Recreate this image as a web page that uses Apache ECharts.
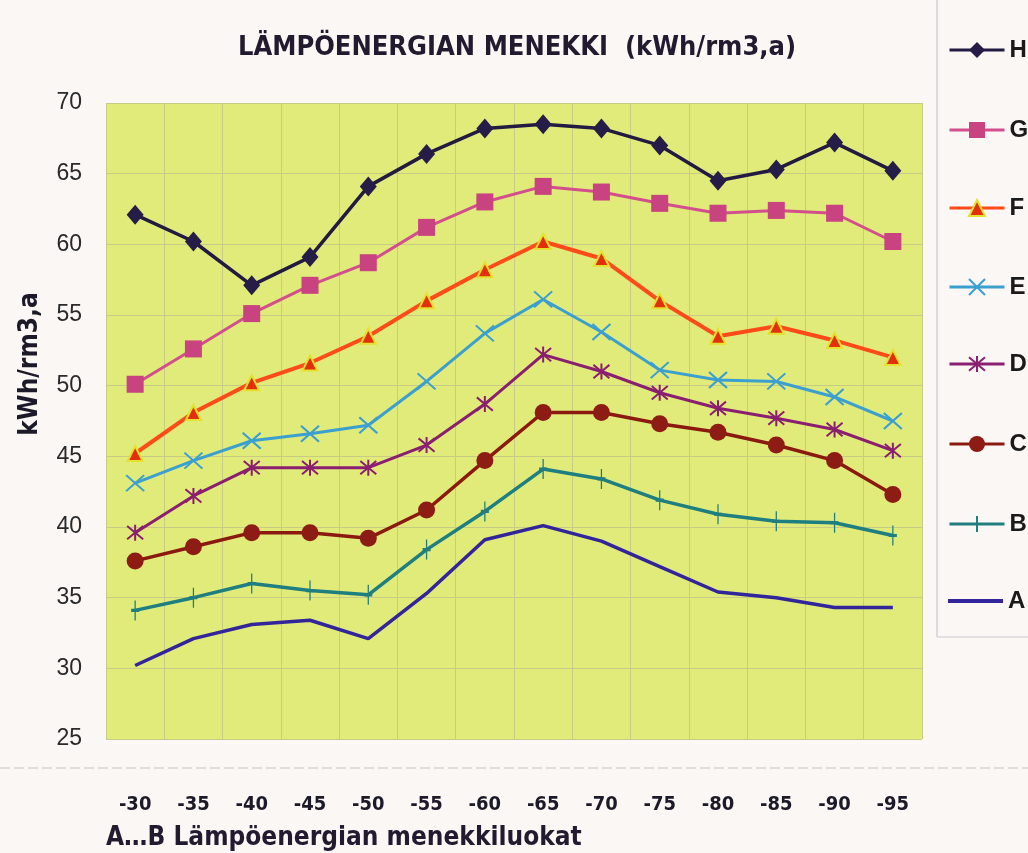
<!DOCTYPE html>
<html>
<head>
<meta charset="utf-8">
<script src="https://cdn.jsdelivr.net/npm/echarts@6/dist/echarts.min.js"></script>
<style>
html,body{margin:0;padding:0;background:#fbf7f5;}
#c{width:1028px;height:853px;}
</style>
</head>
<body>
<div id="c"></div>
<script>
const categories = ['-30','-35','-40','-45','-50','-55','-60','-65','-70','-75','-80','-85','-90','-95'];
const yTicks = [25,30,35,40,45,50,55,60,65,70];
const seriesNames = ['H','G','F','E','D','C','B','A'];
const H = [62.1,60.2,57.1,59.1,64.1,66.4,68.2,68.5,68.2,67.0,64.5,65.3,67.2,65.2];
const G = [50.1,52.6,55.1,57.1,58.7,61.2,63.0,64.1,63.7,62.9,62.2,62.4,62.2,60.2];
const F = [45.2,48.1,50.2,51.6,53.5,56.0,58.2,60.2,59.0,56.0,53.5,54.2,53.2,52.0];
const E = [43.1,44.7,46.1,46.6,47.2,50.3,53.7,56.1,53.8,51.1,50.4,50.3,49.2,47.5];
const D = [39.6,42.2,44.2,44.2,44.2,45.8,48.7,52.2,51.0,49.5,48.4,47.7,46.9,45.4];
const C = [37.6,38.6,39.6,39.6,39.2,41.2,44.7,48.1,48.1,47.3,46.7,45.8,44.7,42.3];
const B = [34.1,35.0,36.0,35.5,35.2,38.4,41.1,44.1,43.4,41.9,40.9,40.4,40.3,39.4];
const A = [30.2,32.1,33.1,33.4,32.1,35.3,39.1,40.1,39.0,37.2,35.4,35.0,34.3,34.3];
const dataByName = {H,G,F,E,D,C,B,A};

const COND = "'DejaVu Sans Condensed', 'DejaVu Sans', sans-serif";

const styles = {
  H:{color:'#231a42', width:3.5, symbol:'diamond', size:[17,20], item:{color:'#261c48'}},
  G:{color:'#d24e8c', width:3, symbol:'rect', size:17, item:{color:'#c8437f'}},
  F:{color:'#ff4a1a', width:4, symbol:'triangle', size:15, item:{color:'#e2300e', borderColor:'#e6e02e', borderWidth:2}},
  E:{color:'#3b9fd0', width:3, symbol:'path://M0,0L10,10M10,0L0,10', size:[18,16], item:{color:'rgba(0,0,0,0)', borderColor:'#3b9fd0', borderWidth:2}},
  D:{color:'#8a1e70', width:3, symbol:'path://M0,0L10,10M10,0L0,10M5,-1L5,11', size:[16,16], item:{color:'rgba(0,0,0,0)', borderColor:'#8a1e70', borderWidth:2}},
  C:{color:'#8a1a10', width:3.5, symbol:'circle', size:17, item:{color:'#8c1c14'}},
  B:{color:'#1e7e80', width:3.5, symbol:'path://M5,0L5,10M2,5L8,5', size:[8,20], item:{color:'rgba(0,0,0,0)', borderColor:'#1e7e80', borderWidth:2}},
  A:{color:'#32249a', width:3.5, symbol:'none', size:0, item:{color:'#32249a'}}
};

const chart = echarts.init(document.getElementById('c'));
const legendTops = [44,124,202,281,358,438,518,597];
const legends = seriesNames.map((n,i)=>{
  const isA = n==='A';
  return {
    data: isA ? [{name:n, icon:'rect'}] : [n],
    left:943, top:legendTops[i]-(isA?13:11),
    itemWidth:55, itemHeight: isA ? 4 : 20, itemGap:0,
    selectedMode:false,
    lineStyle:{width:3},
    textStyle:{fontFamily:'Liberation Sans', fontWeight:'bold', fontSize:24, color:'#1a1a1a', padding:[2,0,0,0]}
  };
});

chart.setOption({
  backgroundColor:'#fbf7f5',
  animation:false,
  title:{
    text:'LÄMPÖENERGIAN MENEKKI  (kWh/rm3,a)',
    left:512, top:29, textAlign:'center',
    textStyle:{fontFamily:COND, fontWeight:'bold', fontSize:27, color:'#231a30'}
  },
  legend:legends,
  grid:{left:106, right:106, top:103, bottom:114, show:true, backgroundColor:'#e1eb79', borderWidth:0},
  xAxis:{
    type:'category', data:categories, boundaryGap:true,
    axisLine:{show:false}, axisTick:{show:false},
    splitLine:{show:true, interval:0, lineStyle:{color:'#c7cb86', width:1}},
    axisLabel:{margin:56, fontFamily:COND, fontWeight:'bold', fontSize:20, color:'#1c1a28', interval:0}
  },
  yAxis:{
    type:'value', min:25, max:70, interval:5,
    axisLine:{show:false}, axisTick:{show:false},
    splitLine:{show:true, lineStyle:{color:'#c7cb86', width:1}},
    axisLabel:{margin:24, fontFamily:'Liberation Sans', fontSize:23, color:'#2a2a2a'}
  },
  graphic:[
    {type:'line', shape:{x1:937,y1:0,x2:937,y2:637}, style:{stroke:'#d0d0d4', lineWidth:1.5}},
    {type:'line', shape:{x1:937,y1:637,x2:1028,y2:637}, style:{stroke:'#d8d8dc', lineWidth:1.5}},
    {type:'line', shape:{x1:0,y1:768,x2:1028,y2:768}, style:{stroke:'#d8d4d4', lineWidth:1.5, lineDash:[10,4]}},
    {type:'text', x:30, y:364, rotation:Math.PI/2, style:{text:'kWh/rm3,a', fontFamily:COND, fontWeight:'bold', fontSize:26, fill:'#1c1a28', align:'center', verticalAlign:'middle'}},
    {type:'text', x:106, y:838, style:{text:'A…B Lämpöenergian menekkiluokat', fontFamily:COND, fontWeight:'bold', fontSize:26, fill:'#231a30', align:'left', verticalAlign:'middle'}}
  ],
  series:seriesNames.map(n=>{
    const s = styles[n];
    return {
      name:n, type:'line', data:dataByName[n],
      symbol:s.symbol, symbolSize:s.size, showSymbol:s.symbol!=='none',
      lineStyle:{color:s.color, width:s.width},
      itemStyle:s.item, color:s.color,
      z: 10 - seriesNames.indexOf(n)
    };
  })
});
</script>
</body>
</html>
